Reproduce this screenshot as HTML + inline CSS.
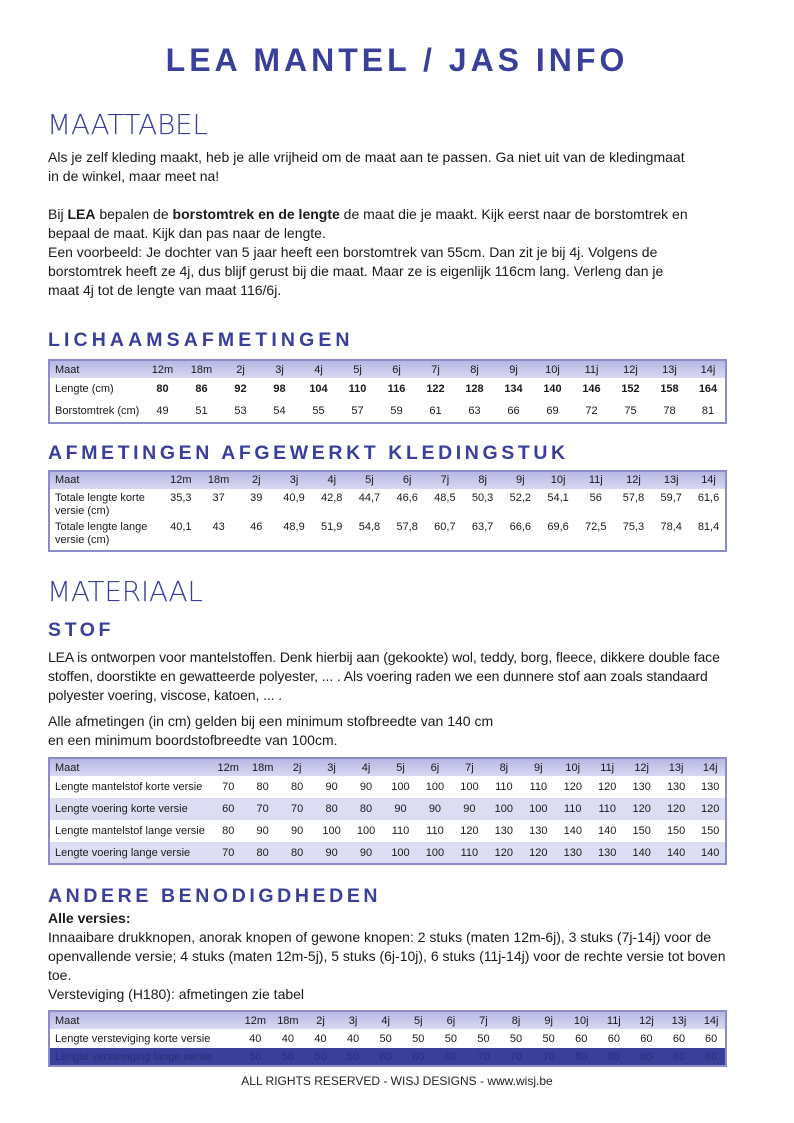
<!DOCTYPE html>
<html><head><meta charset="utf-8"><style>
body{margin:0;background:#fff;}
#p{position:relative;width:794px;height:1123px;overflow:hidden;font-family:"Liberation Sans",sans-serif;color:#1a1a1a;}
.a{position:absolute;white-space:nowrap;}
h1{position:absolute;margin:0;left:0;width:794px;text-align:center;top:42px;font-size:32px;letter-spacing:4px;color:#3a3f9a;font-weight:bold;}
.thin{font-family:"DejaVu Sans ExtraLight","DejaVu Sans",sans-serif;font-weight:200;color:#3a3f9a;font-size:28px;letter-spacing:-0.3px;}
.h2{font-weight:bold;color:#3a3f9a;font-size:19.5px;letter-spacing:3.8px;}
.t{font-size:14px;line-height:19px;}
table{position:absolute;left:48px;width:679px;border-collapse:collapse;table-layout:fixed;border:2px solid #8c8cc8;font-family:"Liberation Sans Narrow","Liberation Sans",sans-serif;font-size:11px;}
td{padding:0 0 0 4px;text-align:center;white-space:nowrap;overflow:hidden;}
td:first-child{text-align:left;padding-left:5px;}
tr.hd td{background:linear-gradient(#b7b7e4,#d8d8f2);height:17px;}
.alt td{background:#dcdcf2;}
.dk td{background:#3a3f9a;color:#2a2f7a;}
</style></head><body><div id="p">
<h1>LEA MANTEL / JAS INFO</h1>
<div class="a thin" style="left:47px;top:108px;">MAATTABEL</div>
<div class="a t" style="left:48px;top:148px;">Als je zelf kleding maakt, heb je alle vrijheid om de maat aan te passen. Ga niet uit van de kledingmaat<br>in de winkel, maar meet na!</div>
<div class="a t" style="left:48px;top:205px;">Bij <b>LEA</b> bepalen de <b>borstomtrek en de lengte</b> de maat die je maakt. Kijk eerst naar de borstomtrek en<br>bepaal de maat. Kijk dan pas naar de lengte.<br>Een voorbeeld: Je dochter van 5 jaar heeft een borstomtrek van 55cm. Dan zit je bij 4j. Volgens de<br>borstomtrek heeft ze 4j, dus blijf gerust bij die maat. Maar ze is eigenlijk 116cm lang. Verleng dan je<br>maat 4j tot de lengte van maat 116/6j.</div>
<div class="a h2" style="left:48px;top:329px;letter-spacing:4.1px;">LICHAAMSAFMETINGEN</div>
<table style="top:359px;"><colgroup><col style="width:92px"><col span="15"></colgroup>
<tr class="hd"><td>Maat</td><td>12m</td><td>18m</td><td>2j</td><td>3j</td><td>4j</td><td>5j</td><td>6j</td><td>7j</td><td>8j</td><td>9j</td><td>10j</td><td>11j</td><td>12j</td><td>13j</td><td>14j</td></tr>
<tr style="height:22px;font-weight:bold"><td style="font-weight:normal">Lengte (cm)</td><td>80</td><td>86</td><td>92</td><td>98</td><td>104</td><td>110</td><td>116</td><td>122</td><td>128</td><td>134</td><td>140</td><td>146</td><td>152</td><td>158</td><td>164</td></tr>
<tr style="height:23px"><td>Borstomtrek (cm)</td><td>49</td><td>51</td><td>53</td><td>54</td><td>55</td><td>57</td><td>59</td><td>61</td><td>63</td><td>66</td><td>69</td><td>72</td><td>75</td><td>78</td><td>81</td></tr>
</table>
<div class="a h2" style="left:48px;top:442px;letter-spacing:3.6px;">AFMETINGEN AFGEWERKT KLEDINGSTUK</div>
<table style="top:470px;line-height:13px;"><colgroup><col style="width:111px"><col span="15"></colgroup>
<tr class="hd"><td>Maat</td><td>12m</td><td>18m</td><td>2j</td><td>3j</td><td>4j</td><td>5j</td><td>6j</td><td>7j</td><td>8j</td><td>9j</td><td>10j</td><td>11j</td><td>12j</td><td>13j</td><td>14j</td></tr>
<tr style="height:32px;vertical-align:top"><td style="padding-top:3px">Totale lengte korte<br>versie (cm)</td><td style="padding-top:3px">35,3</td><td style="padding-top:3px">37</td><td style="padding-top:3px">39</td><td style="padding-top:3px">40,9</td><td style="padding-top:3px">42,8</td><td style="padding-top:3px">44,7</td><td style="padding-top:3px">46,6</td><td style="padding-top:3px">48,5</td><td style="padding-top:3px">50,3</td><td style="padding-top:3px">52,2</td><td style="padding-top:3px">54,1</td><td style="padding-top:3px">56</td><td style="padding-top:3px">57,8</td><td style="padding-top:3px">59,7</td><td style="padding-top:3px">61,6</td></tr>
<tr style="height:30px;vertical-align:top"><td>Totale lengte lange<br>versie (cm)</td><td>40,1</td><td>43</td><td>46</td><td>48,9</td><td>51,9</td><td>54,8</td><td>57,8</td><td>60,7</td><td>63,7</td><td>66,6</td><td>69,6</td><td>72,5</td><td>75,3</td><td>78,4</td><td>81,4</td></tr>
</table>
<div class="a thin" style="left:47px;top:575px;">MATERIAAL</div>
<div class="a h2" style="left:48px;top:619px;letter-spacing:3.6px;">STOF</div>
<div class="a t" style="left:48px;top:648px;letter-spacing:-0.1px;">LEA is ontworpen voor mantelstoffen. Denk hierbij aan (gekookte) wol, teddy, borg, fleece, dikkere double face<br>stoffen, doorstikte en gewatteerde polyester, ... . Als voering raden we een dunnere stof aan zoals standaard<br>polyester voering, viscose, katoen, ... .</div>
<div class="a t" style="left:48px;top:712px;">Alle afmetingen (in cm) gelden bij een minimum stofbreedte van 140 cm<br>en een minimum boordstofbreedte van 100cm.</div>
<table style="top:757px;"><colgroup><col style="width:160px"><col span="15"></colgroup>
<tr class="hd"><td>Maat</td><td>12m</td><td>18m</td><td>2j</td><td>3j</td><td>4j</td><td>5j</td><td>6j</td><td>7j</td><td>8j</td><td>9j</td><td>10j</td><td>11j</td><td>12j</td><td>13j</td><td>14j</td></tr>
<tr style="height:22px"><td>Lengte mantelstof korte versie</td><td>70</td><td>80</td><td>80</td><td>90</td><td>90</td><td>100</td><td>100</td><td>100</td><td>110</td><td>110</td><td>120</td><td>120</td><td>130</td><td>130</td><td>130</td></tr>
<tr class="alt" style="height:22px"><td>Lengte voering korte versie</td><td>60</td><td>70</td><td>70</td><td>80</td><td>80</td><td>90</td><td>90</td><td>90</td><td>100</td><td>100</td><td>110</td><td>110</td><td>120</td><td>120</td><td>120</td></tr>
<tr style="height:22px"><td>Lengte mantelstof lange versie</td><td>80</td><td>90</td><td>90</td><td>100</td><td>100</td><td>110</td><td>110</td><td>120</td><td>130</td><td>130</td><td>140</td><td>140</td><td>150</td><td>150</td><td>150</td></tr>
<tr class="alt" style="height:22px"><td>Lengte voering lange versie</td><td>70</td><td>80</td><td>80</td><td>90</td><td>90</td><td>100</td><td>100</td><td>110</td><td>120</td><td>120</td><td>130</td><td>130</td><td>140</td><td>140</td><td>140</td></tr>
</table>
<div class="a h2" style="left:48px;top:885px;letter-spacing:3.6px;">ANDERE BENODIGDHEDEN</div>
<div class="a t" style="left:48px;top:909px;"><b>Alle versies:</b><br>Innaaibare drukknopen, anorak knopen of gewone knopen: 2 stuks (maten 12m-6j), 3 stuks (7j-14j) voor de<br>openvallende versie; 4 stuks (maten 12m-5j), 5 stuks (6j-10j), 6 stuks (11j-14j) voor de rechte versie tot boven<br>toe.<br>Versteviging (H180): afmetingen zie tabel</div>
<table style="top:1010px;"><colgroup><col style="width:188px"><col span="15"></colgroup>
<tr class="hd"><td>Maat</td><td>12m</td><td>18m</td><td>2j</td><td>3j</td><td>4j</td><td>5j</td><td>6j</td><td>7j</td><td>8j</td><td>9j</td><td>10j</td><td>11j</td><td>12j</td><td>13j</td><td>14j</td></tr>
<tr style="height:19px"><td>Lengte versteviging korte versie</td><td>40</td><td>40</td><td>40</td><td>40</td><td>50</td><td>50</td><td>50</td><td>50</td><td>50</td><td>50</td><td>60</td><td>60</td><td>60</td><td>60</td><td>60</td></tr>
<tr class="dk" style="height:18px"><td>Lengte versteviging lange versie</td><td>50</td><td>50</td><td>50</td><td>50</td><td>60</td><td>60</td><td>60</td><td>70</td><td>70</td><td>70</td><td>80</td><td>80</td><td>80</td><td>80</td><td>80</td></tr>
</table>
<div class="a" style="left:0;width:794px;text-align:center;top:1074px;font-size:12px;color:#222;">ALL RIGHTS RESERVED - WISJ DESIGNS - www.wisj.be</div>
</div></body></html>
